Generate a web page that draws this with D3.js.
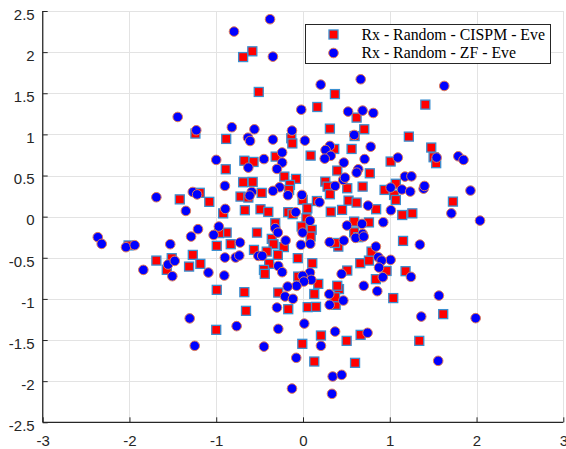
<!DOCTYPE html>
<html>
<head>
<meta charset="utf-8">
<script src="https://cdn.jsdelivr.net/npm/d3@7/dist/d3.min.js"></script>
<style>
  html, body { margin: 0; padding: 0; background: #fff; }
  svg { display: block; }
</style>
</head>
<body>
<script>
// Series 1: received constellation, CISPM precoding (x = in-phase, y = quadrature)
const cispmX = [-1.42,-1.19,-1.08,-1.24,-0.584,-0.69,-0.51,0.368,0.165,0.618,0.31,0.706,0.595,-0.885,-0.135,-0.123,0.56,0.36,0.088,-0.315,-0.676,-0.57,-0.89,0.395,0.77,1.01,-0.215,-0.08,-0.69,-0.58,-0.15,-0.16,0.257,0.283,0.51,0.687,0.94,-0.72,-0.63,-0.476,-0.004,0.16,0.31,-0.67,-0.49,-0.40,0.05,0.32,0.45,0.525,0.618,0.843,-0.17,1.41,1.22,1.478,1.505,1.535,1.07,1.05,1.07,1.728,1.144,1.26,1.153,1.182,1.04,1.616,1.34,-2.01,-1.69,-1.513,-1.57,-1.27,-1.313,-1.183,-0.994,-0.994,-1.0,-0.12,0.04,0.10,0.59,0.76,0.59,0.637,-0.88,-0.833,-0.53,-0.32,-0.36,-0.22,-0.34,-0.565,-0.418,-0.29,-0.39,-0.45,-0.44,-0.06,-0.016,0.088,0.107,-0.055,0.176,-0.285,0.13,-0.17,0.054,0.15,-0.676,-0.657,-0.008,0.13,0.207,0.503,0.664,0.60,0.415,0.376,0.395,0.84,0.51,0.66,0.76,0.963,0.79,0.407,0.37,-0.967,0.37,-0.92];
const cispmY = [0.21,0.29,0.18,1.01,2.01,1.94,1.516,1.49,1.333,1.204,1.07,1.062,0.98,0.945,0.953,0.89,0.823,0.823,0.742,0.73,0.68,0.665,0.576,0.56,0.527,0.67,0.487,0.459,0.418,0.422,0.386,0.325,0.426,0.365,0.345,0.365,0.325,0.244,0.232,0.289,0.203,0.19,0.272,0.078,0.09,0.058,0.10,0.06,0.082,0.195,0.171,0.09,0.054,1.362,0.973,0.84,0.722,0.65,0.40,0.264,0.203,0.183,0.02,0.04,-0.295,-0.663,-0.99,-1.185,-1.51,-0.35,-0.534,-0.505,-0.647,-0.465,-0.607,-0.574,-0.355,-0.89,-1.376,0.03,-0.02,-0.16,-0.06,-0.07,-0.19,-0.25,-0.194,-0.335,-0.194,-0.08,-0.27,-0.37,-0.335,-0.404,-0.425,-0.465,-0.574,-0.647,-0.696,-0.505,-0.12,-0.242,-0.566,-0.728,-0.817,-0.923,-0.94,-1.125,-1.10,-1.097,-0.918,-1.145,-1.546,-1.761,-1.445,-1.51,-1.437,-1.777,-0.881,-1.072,-0.84,-0.76,-0.655,-0.566,-0.534,-0.66,-0.425,-0.364,-0.32,-0.2,-0.98,0.04];

// Series 2: received constellation, zero-forcing precoding
const zfX = [-1.444,-1.23,-1.0,-1.69,-1.27,-1.22,-1.35,-0.38,-0.795,-0.347,0.204,0.665,-0.02,0.52,0.687,0.81,-0.82,-0.56,0.59,-0.634,-0.61,-0.347,-0.127,0.022,0.78,0.31,0.26,0.32,0.25,-0.24,-0.24,-0.45,-0.63,-0.30,0.71,0.47,0.637,0.618,-0.90,-0.27,0.37,0.463,0.484,1.01,-0.59,-0.615,-0.346,-0.173,-0.013,0.19,-0.896,-0.084,0.75,1.013,1.628,1.54,1.093,1.79,1.85,1.175,1.25,1.14,1.236,1.39,1.40,1.93,1.71,2.04,1.347,1.01,1.244,1.566,1.363,1.99,1.558,-2.365,-2.32,-2.04,-1.94,-1.84,-1.53,-1.555,-1.478,-1.506,-1.29,-1.21,-1.09,-1.03,-0.97,-1.306,-1.248,0.08,0.68,0.688,0.507,0.925,0.607,0.70,-0.726,-0.90,-0.776,-0.734,-0.32,-0.29,-0.2,-0.515,-0.47,-0.285,-0.24,-0.005,-0.024,0.084,0.08,0.096,-0.005,0.01,-0.074,-0.177,-0.207,-0.116,-0.30,-0.907,-0.765,-0.285,0.015,-0.45,-0.078,-0.127,0.207,0.37,0.744,0.342,0.446,0.334,0.303,0.307,0.465,0.70,0.856,0.92,0.445,0.868,0.906,0.876,0.84,0.47,0.307];
const zfY = [1.212,1.05,0.69,0.236,0.30,0.27,0.07,2.40,2.25,1.945,1.605,1.67,1.30,1.277,1.289,1.26,1.087,1.062,0.993,0.96,0.92,0.937,1.046,0.924,0.85,0.86,0.81,0.74,0.705,0.78,0.657,0.70,0.596,0.58,0.70,0.657,0.576,0.535,0.374,0.357,0.373,0.446,0.474,0.353,0.30,0.256,0.313,0.26,0.264,0.175,0.094,0.054,0.134,0.078,1.589,0.718,0.718,0.734,0.69,0.487,0.49,0.33,0.305,0.34,0.373,0.317,0.04,-0.048,-0.34,-0.525,-0.732,-0.96,-1.215,-1.234,-1.753,-0.25,-0.331,-0.371,-0.347,-0.647,-0.335,-0.582,-0.538,-0.724,-0.242,-0.152,-0.68,-0.222,-0.12,-1.237,-1.57,-0.05,-0.088,-0.21,-0.108,-0.068,-0.258,-0.242,-0.315,-0.497,-0.497,-0.473,-0.14,-0.194,-0.29,-0.477,-0.477,-0.6,-0.675,-0.194,-0.343,-0.33,-0.68,-0.768,-0.72,-0.789,-0.841,-0.85,-0.971,-0.999,-1.105,-0.716,-1.331,-1.364,-1.30,-1.58,-1.716,-2.09,-1.57,-1.397,-1.412,-1.943,-1.923,-2.154,-0.942,-1.072,-1.02,-0.841,-0.906,-0.736,-0.696,-0.493,-0.534,-0.619,-0.364,-0.29,-0.31];

const seriesNames = ["Rx - Random - CISPM - Eve", "Rx - Random - ZF - Eve"];
const xTicks = [-3, -2, -1, 0, 1, 2, 3];
const yTicks = [-2.5, -2, -1.5, -1, -0.5, 0, 0.5, 1, 1.5, 2, 2.5];

const W = 566, H = 449;
const plot = { left: 42.7, right: 563.3, top: 11, bottom: 422.3 };

const x = d3.scaleLinear().domain([-3, 3]).range([plot.left, plot.right]);
const y = d3.scaleLinear().domain([-2.5, 2.5]).range([plot.bottom, plot.top]);

const svg = d3.select("body").append("svg")
  .attr("width", W).attr("height", H)
  .style("font-family", "'Liberation Sans', Arial, Helvetica, sans-serif");

// grid
const grid = svg.append("g").attr("stroke", "#e3e3e3").attr("stroke-width", 1);
grid.selectAll("line.gx").data(xTicks).join("line")
  .attr("x1", d => Math.round(x(d)) + 0.5).attr("x2", d => Math.round(x(d)) + 0.5)
  .attr("y1", plot.top).attr("y2", plot.bottom);
grid.selectAll("line.gy").data(yTicks).join("line")
  .attr("y1", d => Math.round(y(d)) + 0.5).attr("y2", d => Math.round(y(d)) + 0.5)
  .attr("x1", plot.left).attr("x2", plot.right);

// markers
const sq = 9;
const cispm = cispmX.map((v, i) => [v, cispmY[i]]);
const zf = zfX.map((v, i) => [v, zfY[i]]);

svg.append("g").selectAll("rect").data(cispm).join("rect")
  .attr("x", d => x(d[0]) - sq / 2).attr("y", d => y(d[1]) - sq / 2)
  .attr("width", sq).attr("height", sq)
  .attr("fill", "#ff0000").attr("stroke", "#3a8fd0").attr("stroke-width", 1.3);

svg.append("g").selectAll("circle").data(zf).join("circle")
  .attr("cx", d => x(d[0])).attr("cy", d => y(d[1])).attr("r", 4.8)
  .attr("fill", "#0000ff").attr("stroke", "#e27a55").attr("stroke-width", 1);

// axes
const axisColor = "#262626";
const xAxis = svg.append("g").attr("transform", `translate(0,${plot.bottom})`)
  .call(d3.axisBottom(x).tickValues(xTicks).tickSize(-5).tickPadding(13).tickFormat(d => String(d)));
const yAxis = svg.append("g").attr("transform", `translate(${plot.left},0)`)
  .call(d3.axisLeft(y).tickValues(yTicks).tickSize(-5).tickPadding(8).tickFormat(d => String(d)));
[xAxis, yAxis].forEach(a => {
  a.select(".domain").attr("stroke", axisColor).attr("stroke-width", 1.2);
  a.selectAll(".tick line").attr("stroke", axisColor);
  a.selectAll(".tick text").attr("fill", axisColor).style("font-size", "15px")
    .style("font-family", "'Liberation Sans', Arial, Helvetica, sans-serif");
});
xAxis.select(".domain").attr("d", `M${plot.left},0H${plot.right}`);
yAxis.select(".domain").attr("d", `M0,${plot.bottom}V${plot.top}`);
yAxis.selectAll(".tick text").attr("dy", "0.55em");

// legend
const lg = svg.append("g").attr("transform", "translate(305.5,24.5)");
lg.append("rect").attr("width", 245).attr("height", 39)
  .attr("fill", "#fff").attr("stroke", "#262626").attr("stroke-width", 1);
const rows = [10, 28.5];
lg.append("rect").attr("x", 28 - sq / 2).attr("y", rows[0] - sq / 2).attr("width", sq).attr("height", sq)
  .attr("fill", "#ff0000").attr("stroke", "#3a8fd0").attr("stroke-width", 1.3);
lg.append("circle").attr("cx", 28).attr("cy", rows[1]).attr("r", 4.8)
  .attr("fill", "#0000ff").attr("stroke", "#e27a55").attr("stroke-width", 1);
lg.selectAll("text").data(seriesNames).join("text")
  .attr("x", 56).attr("y", (d, i) => rows[i] + 5)
  .attr("fill", "#000")
  .style("font-family", "'Liberation Serif', 'Times New Roman', serif")
  .style("font-size", "15.8px")
  .text(d => d);
</script>
</body>
</html>
